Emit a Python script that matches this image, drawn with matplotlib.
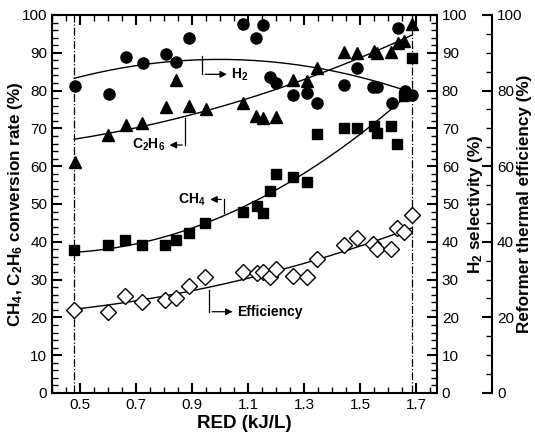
import numpy as np
import matplotlib
matplotlib.use("Agg")
import matplotlib.pyplot as plt
from matplotlib.ticker import MultipleLocator

plt.rcParams['font.family'] = ['Liberation Sans', 'DejaVu Sans']
plt.rcParams['mathtext.default'] = 'regular'

# ---- data ----
h2_x = [0.482, 0.605, 0.664, 0.724, 0.807, 0.843, 0.890, 1.081, 1.129, 1.155, 1.179, 1.200,
        1.262, 1.309, 1.347, 1.443, 1.490, 1.548, 1.560, 1.613, 1.637, 1.661, 1.685]
h2_y = [81.2, 79.1, 89.0, 87.2, 89.6, 87.6, 93.8, 97.6, 93.8, 97.4, 83.7, 81.9,
        78.8, 79.3, 76.8, 81.5, 85.9, 81.0, 80.9, 76.8, 96.5, 79.9, 78.8]

c2h6_x = [0.482, 0.601, 0.664, 0.720, 0.807, 0.843, 0.890, 0.950, 1.081, 1.129, 1.152, 1.200,
          1.262, 1.309, 1.347, 1.443, 1.488, 1.550, 1.560, 1.610, 1.637, 1.657, 1.685]
c2h6_y = [61.2, 68.3, 70.9, 71.3, 75.7, 82.8, 75.9, 75.0, 76.8, 73.3, 72.7, 72.9,
          82.8, 82.6, 86.1, 90.3, 90.0, 90.6, 90.0, 90.3, 92.7, 93.2, 97.6]

ch4_x = [0.479, 0.601, 0.661, 0.720, 0.804, 0.843, 0.890, 0.946, 1.081, 1.131, 1.155, 1.179,
         1.200, 1.262, 1.309, 1.347, 1.443, 1.490, 1.550, 1.560, 1.610, 1.633, 1.657, 1.685]
ch4_y = [37.8, 39.2, 40.6, 39.2, 39.2, 40.6, 42.2, 45.1, 48.0, 49.5, 47.7, 53.5,
         57.9, 57.1, 55.9, 68.5, 70.0, 70.0, 70.6, 68.9, 70.6, 66.0, 78.6, 88.5]

eff_x = [0.479, 0.601, 0.661, 0.720, 0.804, 0.843, 0.890, 0.946, 1.081, 1.131, 1.155, 1.179,
         1.200, 1.262, 1.309, 1.347, 1.443, 1.490, 1.548, 1.560, 1.610, 1.633, 1.657, 1.685]
eff_y = [22.0, 21.5, 25.7, 24.2, 24.6, 25.0, 28.3, 30.6, 32.1, 31.7, 32.1, 30.6,
         32.7, 31.0, 30.6, 35.4, 39.2, 40.9, 39.4, 38.0, 38.0, 43.6, 42.7, 47.1]

red_min, red_max = 0.48, 1.685
x_ticks = [0.5, 0.7, 0.9, 1.1, 1.3, 1.5, 1.7]

fig = plt.figure(figsize=(5.35, 4.33), dpi=100)
ax = fig.add_axes([0.0972, 0.0924, 0.7196, 0.873])

xx = np.linspace(red_min, red_max, 200)
def trend(x, y):
    c = np.polyfit(x, y, 2)
    return np.polyval(c, xx)

for x, y in [(h2_x, h2_y), (c2h6_x, c2h6_y), (ch4_x, ch4_y), (eff_x, eff_y)]:
    ax.plot(xx, trend(x, y), color='black', lw=1.0, zorder=2)

ax.plot(h2_x, h2_y, 'o', ms=8, color='black', zorder=3)
ax.plot(c2h6_x, c2h6_y, '^', ms=8, color='black', zorder=3)
ax.plot(ch4_x, ch4_y, 's', ms=7, color='black', zorder=3)
ax.plot(eff_x, eff_y, 'D', ms=8.5, mfc='white', mec='black', mew=1.0, zorder=3)

for xv in (red_min, red_max):
    ax.plot([xv, xv], [0, 100], color='black', lw=0.9, ls='-.', zorder=1)

ax.set_xlim(0.4, 1.775)
ax.set_ylim(0, 100)
ax.set_xticks(x_ticks)
ax.xaxis.set_minor_locator(MultipleLocator(0.05))
ax.yaxis.set_major_locator(MultipleLocator(10))
ax.yaxis.set_minor_locator(MultipleLocator(2))
ax.tick_params(which='both', direction='in', top=True, right=False, labelsize=11)
ax.tick_params(which='major', length=7, width=1.5)
ax.tick_params(which='minor', length=4, width=1.0)
for s in ax.spines.values():
    s.set_linewidth(1.5)

ax.set_xlabel('RED (kJ/L)', fontsize=13.5, fontweight='bold', labelpad=2)
ax.set_ylabel('CH$_4$, C$_2$H$_6$ conversion rate (%)', fontsize=12.3, fontweight='bold')
ax.yaxis.set_label_coords(-0.07, 0.5)

# H2 selectivity axis
ax2 = ax.twinx()
ax2.set_ylim(0, 100)
ax2.yaxis.set_major_locator(MultipleLocator(10))
ax2.yaxis.set_minor_locator(MultipleLocator(2))
ax2.tick_params(which='both', direction='in', labelsize=11)
ax2.tick_params(which='major', length=7, width=1.5)
ax2.tick_params(which='minor', length=4, width=1.0)
ax2.set_ylabel('H$_2$ selectivity (%)', fontsize=12.3, fontweight='bold')
ax2.yaxis.set_label_coords(1.075, 0.5)
for s in ax2.spines.values():
    s.set_visible(False)

# Reformer efficiency axis
ax3 = ax.twinx()
ax3.spines['right'].set_position(('axes', 1.143))
for k in ('left', 'top', 'bottom'):
    ax3.spines[k].set_visible(False)
ax3.spines['right'].set_linewidth(1.5)
ax3.set_ylim(0, 100)
ax3.yaxis.set_major_locator(MultipleLocator(20))
ax3.yaxis.set_minor_locator(MultipleLocator(5))
ax3.tick_params(which='both', direction='in', labelsize=11)
ax3.tick_params(which='major', length=7, width=1.5)
ax3.tick_params(which='minor', length=4, width=1.0)
ax3.set_ylabel('Reformer thermal efficiency (%)', fontsize=12.3, fontweight='bold')
ax3.yaxis.set_label_coords(1.208, 0.5)

# annotations
lab = dict(fontsize=10, fontweight='bold', va='center')
ax.plot([0.937, 0.937], [89.2, 84.3], color='black', lw=0.9)
ax.annotate('', xy=(1.035, 84.3), xytext=(0.937, 84.3),
            arrowprops=dict(arrowstyle='-|>', color='black', lw=0.9, mutation_scale=10))
ax.text(1.04, 84.3, 'H$_2$', ha='left', **lab)

ax.plot([0.875, 0.875], [72.7, 65.6], color='black', lw=0.9)
ax.annotate('', xy=(0.81, 65.6), xytext=(0.875, 65.6),
            arrowprops=dict(arrowstyle='-|>', color='black', lw=0.9, mutation_scale=10))
ax.text(0.805, 65.6, 'C$_2$H$_6$', ha='right', **lab)

ax.plot([1.014, 1.014], [47.5, 51.2], color='black', lw=0.9)
ax.annotate('', xy=(0.955, 51.2), xytext=(1.014, 51.2),
            arrowprops=dict(arrowstyle='-|>', color='black', lw=0.9, mutation_scale=10))
ax.text(0.95, 51.2, 'CH$_4$', ha='right', **lab)

ax.plot([0.962, 0.962], [27.2, 21.5], color='black', lw=0.9)
ax.annotate('', xy=(1.055, 21.5), xytext=(0.962, 21.5),
            arrowprops=dict(arrowstyle='-|>', color='black', lw=0.9, mutation_scale=10))
ax.text(1.062, 21.5, 'Efficiency', ha='left', **lab)

fig.savefig('out.png', dpi=100)
